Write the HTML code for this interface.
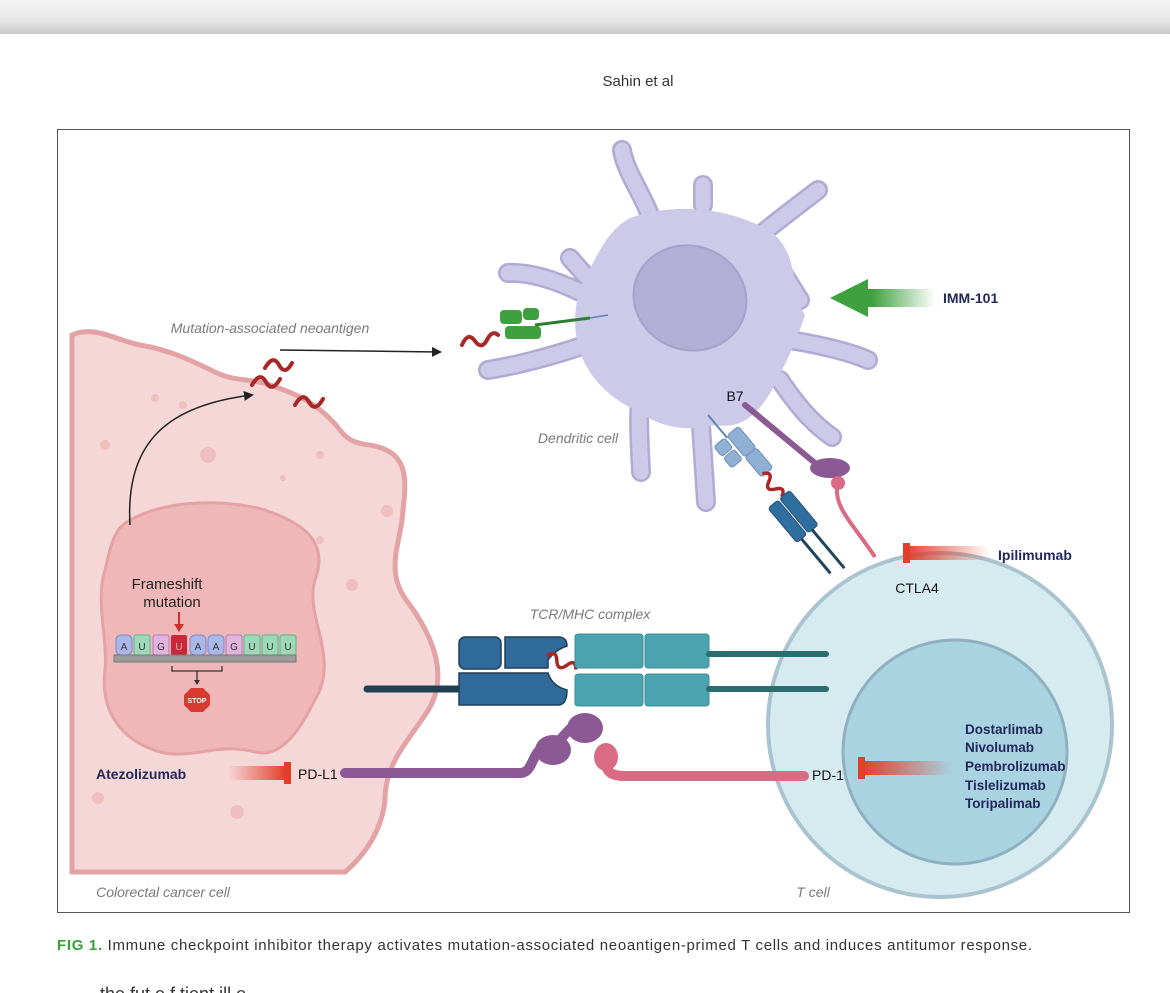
<!DOCTYPE html>
<html><head><meta charset="utf-8"><style>
body{margin:0;background:#fff;}
svg{display:block;font-family:"Liberation Sans",Arial,sans-serif;}
</style></head><body>
<svg width="1170" height="993" viewBox="0 0 1170 993" xmlns="http://www.w3.org/2000/svg">
<defs>
<linearGradient id="tb" x1="0" y1="0" x2="0" y2="1"><stop offset="0" stop-color="#f4f4f4"/><stop offset="0.6" stop-color="#e6e6e6"/><stop offset="1" stop-color="#c8c8c8"/></linearGradient>
<linearGradient id="rg" x1="1" y1="0" x2="0" y2="0"><stop offset="0" stop-color="#e0402a" stop-opacity="0"/><stop offset="1" stop-color="#e0402a"/></linearGradient>
<linearGradient id="rgl" x1="0" y1="0" x2="1" y2="0"><stop offset="0" stop-color="#e0402a" stop-opacity="0"/><stop offset="1" stop-color="#e0402a"/></linearGradient>
<linearGradient id="gg" x1="1" y1="0" x2="0" y2="0"><stop offset="0" stop-color="#3fa040" stop-opacity="0"/><stop offset="0.6" stop-color="#3fa040"/><stop offset="1" stop-color="#3fa040"/></linearGradient>
<marker id="ah" markerWidth="10" markerHeight="10" refX="8" refY="5" orient="auto" markerUnits="userSpaceOnUse"><path d="M0,0 L10,5 L0,10 z" fill="#222"/></marker>
</defs>
<rect x="0" y="0" width="1170" height="34" fill="url(#tb)"/>
<text x="638" y="86" font-size="15" fill="#333" text-anchor="middle">Sahin et al</text>
<rect x="57.5" y="129.5" width="1072" height="783" fill="#fff" stroke="#555" stroke-width="1"/>

<!-- Cancer cell -->
<path d="M72,335 C95,325 115,340 140,345 C170,350 190,360 215,372 C235,382 250,378 270,385 C300,395 320,405 340,430 C355,450 370,440 390,452 C410,465 405,490 402,520 C398,550 385,575 410,605 C435,640 450,680 425,715 C405,745 385,765 385,800 C382,830 365,855 345,872 L72,872 Z" fill="#f6d7d7" stroke="#e3a3a5" stroke-width="5"/>
<g fill="#eeb8b8" opacity="0.8">
<circle cx="208" cy="455" r="8"/><circle cx="105" cy="445" r="5"/><circle cx="155" cy="398" r="4"/><circle cx="320" cy="540" r="4"/><circle cx="352" cy="585" r="6"/><circle cx="387" cy="511" r="6"/><circle cx="237" cy="812" r="7"/><circle cx="98" cy="798" r="6"/><circle cx="183" cy="405" r="4"/><circle cx="247" cy="530" r="4"/><circle cx="320" cy="455" r="4"/><circle cx="283" cy="478" r="3"/></g>
<path d="M130,520 C170,498 230,500 265,510 C300,522 330,540 315,580 C305,615 335,650 320,690 C305,720 285,760 255,752 C220,742 190,760 160,752 C120,740 100,710 105,670 C108,640 95,600 105,570 C112,540 115,528 130,520 Z" fill="#efb7b7" stroke="#e4a2a4" stroke-width="3"/>
<text x="167" y="589" font-size="15" fill="#222" text-anchor="middle">Frameshift</text>
<text x="172" y="607" font-size="15" fill="#222" text-anchor="middle">mutation</text>
<path d="M179,612 L179,628" stroke="#d0302a" stroke-width="2"/><path d="M174,624 L179,632 L184,624 z" fill="#d0302a"/>
<g font-size="10" text-anchor="middle">
<rect x="116" y="635" width="16" height="20" rx="5" fill="#a9b8e6" stroke="#7f88c8"/><text x="124" y="650" fill="#333">A</text>
<rect x="134" y="635" width="16" height="20" rx="2" fill="#9ed8b8" stroke="#5db58a"/><text x="142" y="650" fill="#333">U</text>
<rect x="153" y="635" width="16" height="20" rx="2" fill="#e0b4dc" stroke="#b878b8"/><text x="161" y="650" fill="#333">G</text>
<rect x="171" y="635" width="16" height="20" rx="2" fill="#c8283a"/><text x="179" y="650" fill="#f3b0b0">U</text>
<rect x="190" y="635" width="16" height="20" rx="5" fill="#a9b8e6" stroke="#7f88c8"/><text x="198" y="650" fill="#333">A</text>
<rect x="208" y="635" width="16" height="20" rx="5" fill="#a9b8e6" stroke="#7f88c8"/><text x="216" y="650" fill="#333">A</text>
<rect x="226" y="635" width="16" height="20" rx="2" fill="#e0b4dc" stroke="#b878b8"/><text x="234" y="650" fill="#333">G</text>
<rect x="244" y="635" width="16" height="20" rx="2" fill="#9ed8b8" stroke="#5db58a"/><text x="252" y="650" fill="#333">U</text>
<rect x="262" y="635" width="16" height="20" rx="2" fill="#9ed8b8" stroke="#5db58a"/><text x="270" y="650" fill="#333">U</text>
<rect x="280" y="635" width="16" height="20" rx="2" fill="#9ed8b8" stroke="#5db58a"/><text x="288" y="650" fill="#333">U</text>
</g>
<rect x="114" y="655" width="182" height="7" fill="#9b9b9b" stroke="#777"/>
<path d="M172,666 L172,671 L222,671 L222,666" fill="none" stroke="#333" stroke-width="1.3"/>
<path d="M197,671 L197,682" stroke="#333" stroke-width="1.3"/><path d="M194,680 L197,685 L200,680z" fill="#333"/>
<polygon points="191,688 203,688 210,695 210,705 203,712 191,712 184,705 184,695" fill="#d83a32"/>
<text x="197" y="703" font-size="7" fill="#fff" text-anchor="middle" font-weight="bold">STOP</text>

<g fill="none" stroke="#a82828" stroke-width="4" stroke-linecap="round">
<path d="M252,385 q8,-14 14,-3 q6,11 14,-3"/>
<path d="M265,368 q8,-14 14,-3 q6,11 13,-2" />
<path d="M295,405 q8,-14 14,-3 q6,11 14,-3"/>
<path d="M462,345 q6,-14 13,-4 q7,10 13,-3 q5,-8 10,-3"/>
</g>
<text x="270" y="333" font-size="14" font-style="italic" fill="#7a7a7a" text-anchor="middle">Mutation-associated neoantigen</text>
<path d="M280,350 L440,352" stroke="#222" stroke-width="1.5" marker-end="url(#ah)"/>
<path d="M130,525 C125,440 170,405 252,395" fill="none" stroke="#222" stroke-width="1.5" marker-end="url(#ah)"/>

<!-- Dendritic cell -->
<g fill="none" stroke-linecap="round" stroke-linejoin="round">
<g stroke="#b0aad4" stroke-width="20">
<path d="M650,215 C640,190 625,170 622,150"/><path d="M703,205 L703,185"/><path d="M760,235 C785,215 805,200 818,190"/>
<path d="M580,292 C555,280 530,272 508,273"/><path d="M585,275 L570,258"/><path d="M585,345 C555,355 520,365 488,370"/>
<path d="M790,340 C820,345 850,352 868,360"/><path d="M780,268 L800,300"/>
<path d="M640,400 C638,420 640,450 641,472"/><path d="M700,410 L706,502"/><path d="M780,380 C800,410 815,425 832,437"/>
</g>
<g stroke="#cdc9e9" stroke-width="15">
<path d="M650,215 C640,190 625,170 622,150"/><path d="M703,205 L703,185"/><path d="M760,235 C785,215 805,200 818,190"/>
<path d="M580,292 C555,280 530,272 508,273"/><path d="M585,275 L570,258"/><path d="M585,345 C555,355 520,365 488,370"/>
<path d="M790,340 C820,345 850,352 868,360"/><path d="M780,268 L800,300"/>
<path d="M640,400 C638,420 640,450 641,472"/><path d="M700,410 L706,502"/><path d="M780,380 C800,410 815,425 832,437"/>
</g></g>
<path d="M630,218 C680,200 740,210 775,235 C800,260 790,290 805,315 C795,345 785,365 772,390 C760,410 745,430 715,425 C690,432 660,428 640,412 C610,400 585,375 578,345 C572,320 575,290 592,265 C602,245 612,228 630,218 Z" fill="#cdc9e9"/>
<ellipse cx="690" cy="298" rx="57" ry="52" transform="rotate(20 690 298)" fill="#b3aed6" stroke="#a6a1cc" stroke-width="2"/>
<text x="578" y="443" font-size="14" font-style="italic" fill="#7a7a7a" text-anchor="middle">Dendritic cell</text>
<path d="M535,325 L590,318" stroke="#2e7d32" stroke-width="3"/><path d="M590,318 L608,315" stroke="#5a86b0" stroke-width="1.5"/>
<g fill="#3fa040"><rect x="500" y="310" width="22" height="14" rx="4"/><rect x="523" y="308" width="16" height="12" rx="4"/><rect x="505" y="326" width="36" height="13" rx="4"/></g>

<polygon points="830,298 868,279 868,289 935,289 935,307 868,307 868,317" fill="url(#gg)"/>
<text x="943" y="303" font-size="14" font-weight="bold" fill="#22285a">IMM-101</text>

<!-- T cell -->
<circle cx="940" cy="725" r="172" fill="#d6ebf0" stroke="#a9c4cf" stroke-width="4"/>
<circle cx="955" cy="752" r="112" fill="#a9d3e1" stroke="#8fb0c0" stroke-width="3"/>
<text x="813" y="897" font-size="14" font-style="italic" fill="#7a7a7a" text-anchor="middle">T cell</text>
<text x="163" y="897" font-size="14" font-style="italic" fill="#7a7a7a" text-anchor="middle">Colorectal cancer cell</text>

<g transform="translate(708,415) rotate(50)">
<line x1="0" y1="0" x2="30" y2="0" stroke="#5a86b0" stroke-width="2"/>
<rect x="28" y="-16" width="28" height="15" rx="3" fill="#8fb0d4" stroke="#6e90b8"/>
<rect x="28" y="2" width="13" height="14" rx="3" fill="#8fb0d4" stroke="#6e90b8"/>
<rect x="43" y="2" width="13" height="14" rx="3" fill="#8fb0d4" stroke="#6e90b8"/>
<rect x="56" y="-16" width="26" height="15" rx="3" fill="#8fb0d4" stroke="#6e90b8"/>
<path d="M80,-4 q5,-10 10,0 q5,10 10,0 q5,-10 10,0" fill="none" stroke="#a82828" stroke-width="3.5"/>
<rect x="110" y="-14" width="45" height="13" rx="3" fill="#2f6fa0" stroke="#24507a"/>
<rect x="110" y="1" width="45" height="13" rx="3" fill="#2f6fa0" stroke="#24507a"/>
<line x1="155" y1="-6" x2="205" y2="-6" stroke="#1f4560" stroke-width="3"/>
<line x1="155" y1="8" x2="200" y2="8" stroke="#1f4560" stroke-width="3"/>
</g>
<path d="M745,405 L815,463" stroke="#8b5a95" stroke-width="6" stroke-linecap="round"/>
<ellipse cx="830" cy="468" rx="20" ry="10" fill="#8b5a95"/>
<path d="M838,482 C832,505 850,520 875,557" fill="none" stroke="#d96b85" stroke-width="4"/>
<circle cx="838" cy="483" r="7" fill="#d96b85"/>
<text x="735" y="401" font-size="14" fill="#111" text-anchor="middle">B7</text>
<text x="917" y="593" font-size="14" fill="#111" text-anchor="middle">CTLA4</text>
<rect x="905" y="546" width="85" height="14" fill="url(#rg)"/><rect x="903" y="543" width="7" height="20" fill="#e0402a"/>
<text x="998" y="560" font-size="14" font-weight="bold" fill="#22285a">Ipilimumab</text>

<text x="590" y="619" font-size="14" font-style="italic" fill="#7a7a7a" text-anchor="middle">TCR/MHC complex</text>
<line x1="367" y1="689" x2="460" y2="689" stroke="#1f3f55" stroke-width="7" stroke-linecap="round"/>
<g fill="#2f6a9a" stroke="#1f3f55" stroke-width="1.5">
<rect x="459" y="637" width="42" height="32" rx="6"/>
<path d="M505,637 L558,637 Q567,637 567,646 Q555,650 548,660 L548,668 L505,668 Z"/>
<path d="M459,673 L548,673 Q552,686 567,690 Q567,705 558,705 L459,705 Z"/>
</g>
<path d="M542,662 q6,-10 11,0 q5,10 11,0 q5,-10 10,0" fill="none" stroke="#a82828" stroke-width="3.5" transform="rotate(25 558 670)"/>
<g fill="#4aa3ae" stroke="#3d8c96">
<rect x="575" y="634" width="68" height="34" rx="3"/><rect x="645" y="634" width="64" height="34" rx="3"/>
<rect x="575" y="674" width="68" height="32" rx="3"/><rect x="645" y="674" width="64" height="32" rx="3"/>
</g>
<line x1="709" y1="654" x2="826" y2="654" stroke="#2a6e70" stroke-width="6" stroke-linecap="round"/>
<line x1="709" y1="689" x2="826" y2="689" stroke="#2a6e70" stroke-width="6" stroke-linecap="round"/>

<path d="M345,773 L520,773 C535,773 530,748 550,745 C565,742 565,725 585,722" fill="none" stroke="#8b5a95" stroke-width="10" stroke-linecap="round"/>
<ellipse cx="553" cy="750" rx="18" ry="15" fill="#8b5a95"/><ellipse cx="585" cy="728" rx="18" ry="15" fill="#8b5a95"/>
<path d="M605,758 C605,775 615,776 625,776 L804,776" fill="none" stroke="#d96b85" stroke-width="10" stroke-linecap="round"/>
<ellipse cx="606" cy="757" rx="12" ry="14" fill="#d96b85"/>
<text x="298" y="779" font-size="14" fill="#111">PD-L1</text>
<text x="812" y="780" font-size="14" fill="#111">PD-1</text>
<rect x="228" y="766" width="58" height="14" fill="url(#rgl)"/><rect x="284" y="762" width="7" height="22" fill="#e0402a"/>
<text x="96" y="779" font-size="14" font-weight="bold" fill="#22285a">Atezolizumab</text>
<rect x="862" y="761" width="90" height="14" fill="url(#rg)"/><rect x="858" y="757" width="7" height="22" fill="#e0402a"/>
<g font-size="13.5" font-weight="bold" fill="#22285a">
<text x="965" y="734">Dostarlimab</text><text x="965" y="752">Nivolumab</text><text x="965" y="771">Pembrolizumab</text><text x="965" y="790">Tislelizumab</text><text x="965" y="808">Toripalimab</text>
</g>

<text x="57" y="950" font-size="15" fill="#333" textLength="975" lengthAdjust="spacing"><tspan fill="#3aa03a" font-weight="bold">FIG 1.</tspan> Immune checkpoint inhibitor therapy activates mutation-associated neoantigen-primed T cells and induces antitumor response.</text>
<text x="100" y="1000" font-size="18" fill="#333">the fut            e     f  tient     ill     e ...</text>
</svg>
</body></html>
